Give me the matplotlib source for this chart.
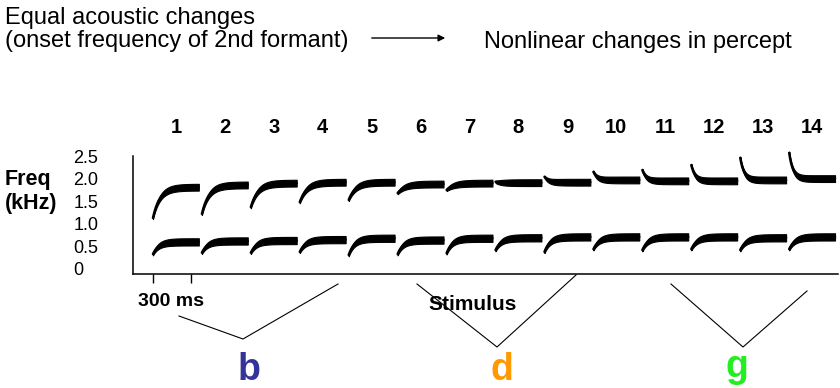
import numpy as np
import matplotlib.pyplot as plt

W, H = 840, 388

# stimulus data (kHz)
stimuli = list(range(1, 15))
f2_onset = [1.13, 1.22, 1.37, 1.48, 1.53, 1.68, 1.75, 1.93, 2.04, 2.15, 2.19, 2.30, 2.46, 2.57]
f2_steady = [1.81, 1.86, 1.90, 1.92, 1.92, 1.88, 1.90, 1.91, 1.92, 1.97, 1.95, 1.95, 1.97, 2.00]
f1_onset = [0.33, 0.36, 0.36, 0.38, 0.31, 0.33, 0.35, 0.42, 0.38, 0.44, 0.42, 0.44, 0.42, 0.44]
f1_steady = [0.60, 0.62, 0.63, 0.65, 0.68, 0.64, 0.68, 0.69, 0.71, 0.71, 0.71, 0.71, 0.69, 0.71]

ytick_vals = [0, 0.5, 1.0, 1.5, 2.0, 2.5]
ytick_labels = ["0", "0.5", "1.0", "1.5", "2.0", "2.5"]

categories = ["b", "d", "g"]
cat_colors = ["#333399", "#ff9900", "#22ee22"]

plt.rcParams['font.family'] = ['Liberation Sans', 'DejaVu Sans']


def fx(x):
    return x / W


def fy(y):
    return 1 - y / H


fig = plt.figure(figsize=(W / 100, H / 100), dpi=100)
ax = fig.add_axes([fx(133), fy(274), fx(838 - 133), (274 - 110) / H])

slot = 387.5      # ms between stimuli
first = 158.0     # ms
dur = 363.0       # ms
t = np.linspace(0, dur, 200)


def stroke(x0, onset, steady, tau, wmax):
    f = steady + (onset - steady) * np.exp(-t / tau)
    w = wmax * (0.35 + 0.65 * (1 - np.exp(-t / 50)))
    ax.fill_between(x0 + t, f - w, f + w, color='black', lw=0.8)
    ax.plot(x0 + t, f, color='black', lw=1.8, solid_capstyle='round')


for i, n in enumerate(stimuli):
    x0 = first + i * slot
    tau2 = 55 if f2_onset[i] < f2_steady[i] else 30
    stroke(x0, f2_onset[i], f2_steady[i], tau2, 0.075)
    stroke(x0, f1_onset[i], f1_steady[i], 45, 0.08)
    ax.text(x0 + dur / 2, 3.12, str(n), ha='center', va='center',
            fontsize=14.5, fontweight='bold')

ax.set_xlim(0, 5582)
ax.set_ylim(-0.111, 3.518)
ax.spines['top'].set_visible(False)
ax.spines['right'].set_visible(False)
ax.spines['left'].set_bounds(-0.111, 2.5)
for s in ['left', 'bottom']:
    ax.spines[s].set_linewidth(1.1)

ax.set_yticks(ytick_vals)
ax.set_yticklabels(ytick_labels, fontsize=13)
ax.tick_params(axis='y', length=0, pad=43)
for lab in ax.get_yticklabels():
    lab.set_horizontalalignment('left')
ax.set_yticks([0.5, 2.0, 2.5], minor=True)
ax.tick_params(axis='y', which='minor', length=7.2, width=1)

ax.set_xticks([first, first + 300])
ax.set_xticklabels([])
ax.tick_params(axis='x', length=6.5, width=1)

# texts
fig.text(fx(5), fy(18), "Equal acoustic changes", fontsize=17, va='center')
fig.text(fx(5), fy(41), "(onset frequency of 2nd formant)", fontsize=17, va='center')
fig.text(fx(484), fy(42), "Nonlinear changes in percept", fontsize=17, va='center')
fig.add_artist(plt.matplotlib.patches.FancyArrowPatch(
    (fx(369), fy(38)), (fx(448), fy(38)), transform=fig.transFigure,
    arrowstyle='-|>', mutation_scale=10, lw=1, color='black'))

fig.text(fx(5), fy(179), "Freq", fontsize=15.5, fontweight='bold', va='center')
fig.text(fx(5), fy(203), "(kHz)", fontsize=15.5, fontweight='bold', va='center')
fig.text(fx(138), fy(302), "300 ms", fontsize=14, fontweight='bold', va='center')
fig.text(fx(428), fy(304), "Stimulus", fontsize=15, fontweight='bold', va='center')

# category brackets
brackets = [[(179, 316), (243, 339), (338, 284)],
            [(417, 284), (497, 347), (576, 275)],
            [(671, 284), (743, 347), (807, 291)]]
letter_pos = [(249, 380), (502, 380), (737, 377)]
for pts, (lx, ly), c, col in zip(brackets, letter_pos, categories, cat_colors):
    xs = [fx(p[0]) for p in pts]
    ys = [fy(p[1]) for p in pts]
    fig.add_artist(plt.Line2D(xs, ys, transform=fig.transFigure, color='black', lw=0.8))
    fig.text(fx(lx), fy(ly), c, fontsize=27, fontweight='bold', color=col,
             ha='center', va='baseline')

fig.savefig("out.png", dpi=100)
